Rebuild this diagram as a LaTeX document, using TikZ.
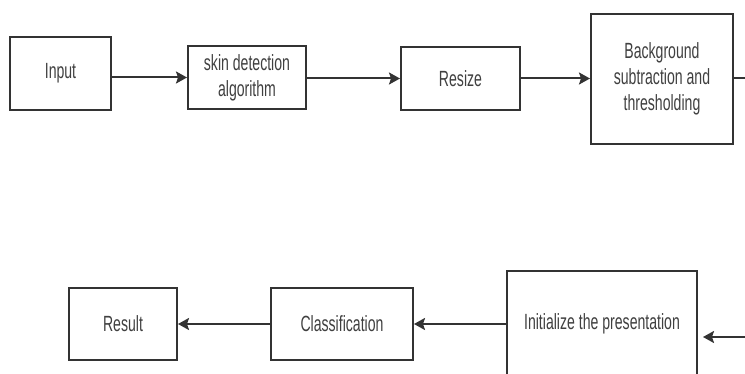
\documentclass[tikz,border=0pt]{standalone}
\usepackage{fontspec}
\newfontfamily\boxfont[FakeStretch=0.64]{Liberation Sans}
\usetikzlibrary{arrows.meta,positioning,calc}

\begin{document}
\begin{tikzpicture}[x=1pt, y=-1pt]

% Define styles
\tikzstyle{block} = [rectangle, draw=black!80, line width=2pt, fill=white, text=black!75, align=center, inner sep=0pt, font=\boxfont\fontsize{22}{26}\selectfont]
\tikzstyle{arrow} = [line width=2pt, draw=black!80, -{Stealth[length=11pt, width=12pt, inset=2pt]}]

\useasboundingbox (0,0) rectangle (745,374);
\clip (0,0) rectangle (745,374);

% TOP ROW
\node (input) [block, minimum width=101pt, minimum height=73pt] at (60.5,73.5) {Input};
\node (skin) [block, minimum width=118pt, minimum height=63pt] at (247,77.5) {skin detection\\algorithm};
\node (resize) [block, minimum width=119pt, minimum height=63pt] at (460.5,78.5) {Resize};
\node (bg) [block, minimum width=142pt, minimum height=130pt] at (662,79) {Background\\subtraction and\\thresholding};

% BOTTOM ROW
\node (result) [block, minimum width=108pt, minimum height=72pt] at (123,324) {Result};
\node (class) [block, minimum width=142pt, minimum height=72pt] at (342,324) {Classification};
\node (init) [block, minimum width=190pt, minimum height=106pt] at (602,324) {Initialize the presentation};

% Free ends at the right border
\coordinate (bg_out) at (745,78);
\coordinate (init_in) at (745,337);

% Connections
\draw [arrow] (input.east |- skin) -- (skin.west);
\draw [arrow] (skin.east |- resize) -- (resize.west);
\draw [arrow] (resize.east) -- (resize -| bg.west);
\draw [line width=2pt, draw=black!80] (bg.east |- bg_out) -- (bg_out);
\draw [arrow, shorten >=5pt] (init_in) -- (init_in -| init.east);
\draw [arrow] (init.west) -- (class.east);
\draw [arrow] (class.west) -- (result.east);

\end{tikzpicture}
\end{document}
